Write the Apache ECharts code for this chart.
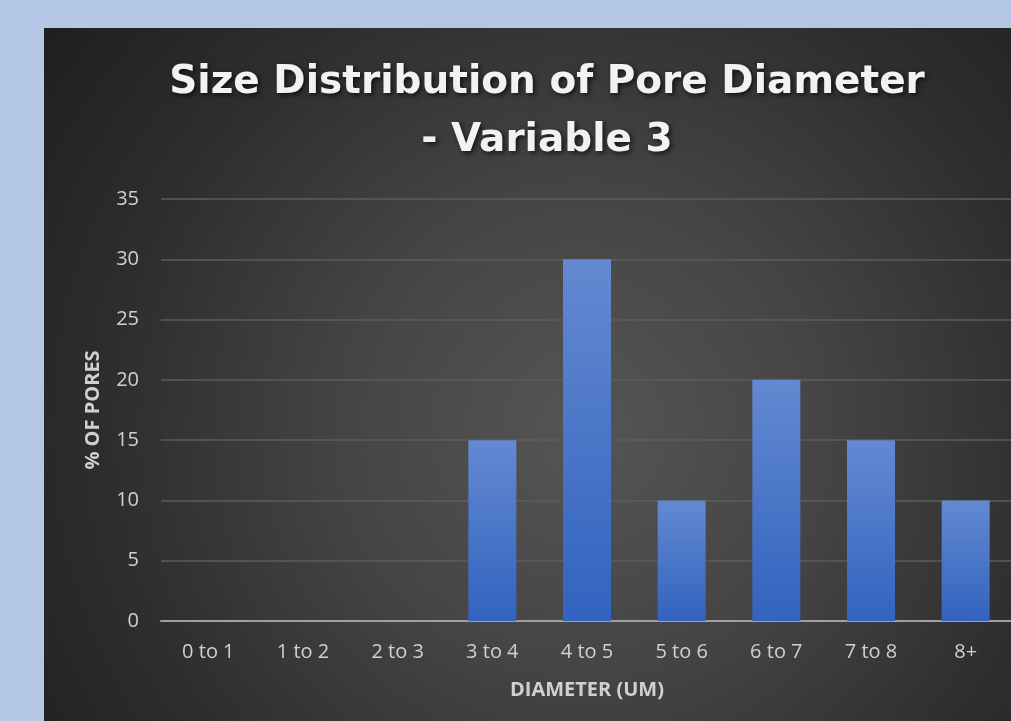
<!DOCTYPE html>
<html><head><meta charset="utf-8">
<script src="https://cdn.jsdelivr.net/npm/echarts@6/dist/echarts.min.js"></script>
<style>
html,body{margin:0;padding:0;width:1011px;height:721px;overflow:hidden;background:#b4c7e7;}
#c{position:absolute;left:44px;top:28px;width:1000px;height:693px;
background:radial-gradient(circle at 54% 58%, #555555 0%, #454545 35%, #2e2e2e 70%, #1f1f1f 100%);}
</style></head>
<body><div id="c"></div>
<script>
const categories = ['0 to 1','1 to 2','2 to 3','3 to 4','4 to 5','5 to 6','6 to 7','7 to 8','8+'];
const values = [0,0,0,15,30,10,20,15,10];
const yTicks = {min:0, max:35, interval:5};
const chart = echarts.init(document.getElementById('c'), null, {width:1000, height:693});
chart.setOption({
  backgroundColor:'transparent',
  title:{
    text:'Size Distribution of Pore Diameter\n- Variable 3',
    left:498, top:21, textAlign:'center',
    textStyle:{color:'#f2f2f2', fontFamily:'DejaVu Sans', fontWeight:'bold', fontSize:39, lineHeight:58,
      textShadowColor:'rgba(0,0,0,0.7)', textShadowBlur:5, textShadowOffsetX:2, textShadowOffsetY:2}
  },
  grid:{left:117, width:852, top:171, height:422, containLabel:false},
  xAxis:{
    type:'category', data:categories,
    axisLine:{lineStyle:{color:'#a0a0a0', width:2}},
    axisTick:{show:false},
    axisLabel:{color:'#d0d0d0', fontFamily:'Open Sans', fontSize:20, margin:21},
    name:'DIAMETER (UM)', nameLocation:'middle', nameGap:59,
    nameTextStyle:{color:'#d0d0d0', fontFamily:'Open Sans', fontWeight:'bold', fontSize:20}
  },
  yAxis:{
    type:'value', min:yTicks.min, max:yTicks.max, interval:yTicks.interval,
    axisLine:{show:false}, axisTick:{show:false},
    splitLine:{lineStyle:{color:'#5c5c5c', width:1.5}},
    axisLabel:{color:'#d0d0d0', fontFamily:'Open Sans', fontSize:20, margin:22},
    name:'% OF PORES', nameLocation:'middle', nameGap:58,
    nameTextStyle:{color:'#d0d0d0', fontFamily:'Open Sans', fontWeight:'bold', fontSize:20}
  },
  series:[{
    type:'bar', data:values, barWidth:48,
    itemStyle:{
      color:new echarts.graphic.LinearGradient(0,0,0,1,[{offset:0,color:'#6389d1'},{offset:1,color:'#3263bf'}]),
      shadowColor:'rgba(0,0,0,0.55)', shadowBlur:6, shadowOffsetX:2, shadowOffsetY:1
    }
  }]
});
</script></body></html>
